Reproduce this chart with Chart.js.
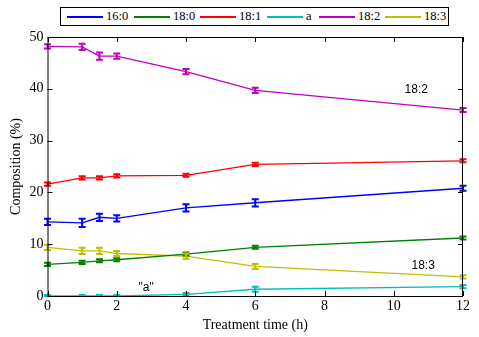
<!DOCTYPE html>
<html>
<head>
<meta charset="utf-8">
<script src="https://cdn.jsdelivr.net/npm/chart.js@4"></script>
<style>
  body { margin: 0; background: #fff; }
  #wrap { position: relative; width: 479px; height: 337px; }
  #legend {
    position: absolute; left: 60px; top: 7px; width: 387px; height: 17px;
    border: 1px solid #000; background: #fff;
    font-family: "Liberation Serif", "Times New Roman", serif; font-size: 12.5px;
  }
  #legend .item { position: absolute; top: 0; height: 17px; display: flex; align-items: center; }
  #legend .ln { width: 36px; height: 2px; margin-right: 3px; }
</style>
</head>
<body>
<div id="wrap">
  <canvas id="chart" width="479" height="337"></canvas>
  <div id="legend"></div>
</div>
<script>
const times = [0, 1, 1.5, 2, 4, 6, 12];
const names = ['16:0', '18:0', '18:1', 'a', '18:2', '18:3'];
const colors = ['#0000ff', '#008000', '#ff0000', '#00bfbf', '#bf00bf', '#bfbf00'];

const c160 = [14.3, 14.1, 15.2, 15.0, 17.0, 18.0, 20.8];
const c180 = [6.1, 6.5, 6.8, 7.0, 8.1, 9.4, 11.2];
const c181 = [21.6, 22.8, 22.8, 23.2, 23.3, 25.4, 26.1];
const cA   = [0, 0, 0, 0, 0.3, 1.3, 1.8];
const c182 = [48.2, 48.1, 46.3, 46.3, 43.3, 39.7, 35.9];
const c183 = [9.4, 8.7, 8.7, 8.2, 7.7, 5.7, 3.7];

const e160 = [0.6, 0.8, 0.7, 0.6, 0.7, 0.7, 0.5];
const e180 = [0.3, 0.3, 0.3, 0.3, 0.3, 0.3, 0.3];
const e181 = [0.3, 0.3, 0.3, 0.3, 0.3, 0.3, 0.3];
const eA   = [0.2, 0.2, 0.2, 0.2, 0.3, 0.5, 0.3];
const e182 = [0.4, 0.6, 0.7, 0.5, 0.5, 0.5, 0.4];
const e183 = [0.5, 0.6, 0.6, 0.5, 0.5, 0.5, 0.3];

const series = [c160, c180, c181, cA, c182, c183];
const errors = [e160, e180, e181, eA, e182, e183];

// legend, item offsets inside the box
const legendLeft = [6, 73, 139, 206, 258, 324];
const legendEl = document.getElementById('legend');
names.forEach((n, i) => {
    const it = document.createElement('div');
    it.className = 'item';
    it.style.left = legendLeft[i] + 'px';
    it.innerHTML = `<span class="ln" style="background:${colors[i]}"></span><span>${n}</span>`;
    legendEl.appendChild(it);
});

const serif = '"Liberation Serif", "Times New Roman", serif';

// error bars + frame with inward ticks
const errorBars = {
    id: 'errorBars',
    afterDatasetsDraw(chart) {
        const ctx = chart.ctx;
        const xs = chart.scales.x, ys = chart.scales.y;
        ctx.save();
        chart.data.datasets.forEach((ds, di) => {
            const err = errors[di];
            ctx.strokeStyle = ds.borderColor;
            ctx.lineWidth = 2;
            ds.data.forEach((p, i) => {
                const px = xs.getPixelForValue(p.x);
                const y1 = ys.getPixelForValue(Math.max(0, p.y - err[i]));
                const y2 = ys.getPixelForValue(p.y + err[i]);
                ctx.beginPath();
                ctx.moveTo(px, y1); ctx.lineTo(px, y2);
                ctx.moveTo(px - 3.5, y1); ctx.lineTo(px + 3.5, y1);
                ctx.moveTo(px - 3.5, y2); ctx.lineTo(px + 3.5, y2);
                ctx.stroke();
            });
        });
        ctx.restore();
    },
    afterDraw(chart) {
        const ctx = chart.ctx;
        const a = chart.chartArea;
        const xs = chart.scales.x, ys = chart.scales.y;
        ctx.save();
        ctx.strokeStyle = '#000';
        ctx.lineWidth = 1;
        ctx.strokeRect(a.left + 0.5, a.top + 0.5, a.right - a.left - 1, a.bottom - a.top);
        ctx.beginPath();
        xs.ticks.forEach(t => {
            const px = Math.round(xs.getPixelForValue(t.value)) + 0.5;
            ctx.moveTo(px, a.bottom); ctx.lineTo(px, a.bottom - 5);
            ctx.moveTo(px, a.top); ctx.lineTo(px, a.top + 5);
        });
        ys.ticks.forEach(t => {
            const py = Math.round(ys.getPixelForValue(t.value)) + 0.5;
            ctx.moveTo(a.left, py); ctx.lineTo(a.left + 5, py);
            ctx.moveTo(a.right, py); ctx.lineTo(a.right - 5, py);
        });
        ctx.stroke();
        // text labels
        ctx.fillStyle = '#000';
        ctx.font = '12px "Liberation Sans", Arial, sans-serif';
        ctx.textAlign = 'center';
        ctx.textBaseline = 'middle';
        ctx.fillText('18:2', xs.getPixelForValue(10.65), ys.getPixelForValue(39.8));
        ctx.fillText('18:3', xs.getPixelForValue(10.85), ys.getPixelForValue(5.9));
        ctx.fillText('"a"', xs.getPixelForValue(2.85), ys.getPixelForValue(1.6));
        ctx.restore();
    }
};

new Chart(document.getElementById('chart'), {
    type: 'line',
    data: {
        datasets: series.map((s, i) => ({
            label: names[i],
            data: s.map((v, j) => ({ x: times[j], y: v })),
            borderColor: colors[i],
            backgroundColor: colors[i],
            borderWidth: 1.3,
            pointRadius: 0,
            tension: 0
        }))
    },
    options: {
        responsive: false,
        animation: false,
        layout: { padding: { top: 37, right: 16, left: 0, bottom: 0 } },
        plugins: { legend: { display: false }, tooltip: { enabled: false } },
        scales: {
            x: {
                type: 'linear', min: 0, max: 12,
                ticks: { stepSize: 2, color: '#000', font: { family: serif, size: 14 }, padding: 2 },
                grid: { display: false, drawTicks: false },
                border: { display: false },
                title: { display: true, text: 'Treatment time (h)', color: '#000', font: { family: serif, size: 14 }, padding: { top: 0, bottom: 3 } },
                afterFit(scale) { scale.height = 41; }
            },
            y: {
                min: 0, max: 50,
                ticks: { stepSize: 10, color: '#000', font: { family: serif, size: 14 }, padding: 4 },
                grid: { display: false, drawTicks: false },
                border: { display: false },
                title: { display: true, text: 'Composition (%)', color: '#000', font: { family: serif, size: 14 }, padding: { top: 8, bottom: 0 } },
                afterFit(scale) { scale.width = 47.5; }
            }
        }
    },
    plugins: [errorBars]
});
</script>
</body>
</html>
